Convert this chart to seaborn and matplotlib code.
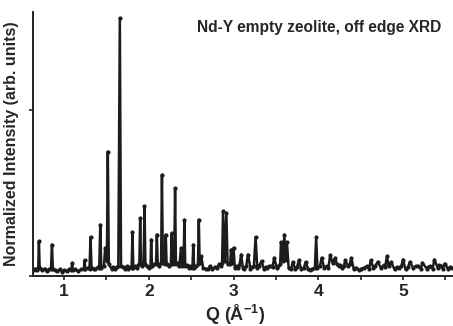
import matplotlib
matplotlib.use('Agg')
import matplotlib.pyplot as plt
from matplotlib.ticker import MultipleLocator
import seaborn as sns
import pandas as pd

# diffraction pattern (Q in 1/A, normalized intensity)
q = [0.64, 0.66, 0.68, 0.695, 0.703, 0.712, 0.74, 0.77, 0.80, 0.82,
     0.845, 0.857, 0.868, 0.89, 0.92, 0.95, 0.98, 1.00, 1.03, 1.06,
     1.085, 1.095, 1.105, 1.13, 1.17, 1.20, 1.232, 1.242, 1.252, 1.28,
     1.30, 1.312, 1.324, 1.35, 1.37, 1.40, 1.415, 1.427, 1.439, 1.47,
     1.485, 1.505, 1.516, 1.528, 1.56, 1.58, 1.60, 1.62, 1.64, 1.658,
     1.672, 1.70, 1.72, 1.74, 1.76, 1.78, 1.797, 1.807, 1.817, 1.84,
     1.86, 1.875, 1.888, 1.898, 1.908, 1.925, 1.938, 1.949, 1.96, 1.98,
     2.0, 2.02, 2.028, 2.037, 2.06, 2.085, 2.095, 2.105, 2.125, 2.145,
     2.155, 2.166, 2.19, 2.20, 2.21, 2.235, 2.26, 2.27, 2.28, 2.30,
     2.31, 2.32, 2.34, 2.36, 2.38, 2.395, 2.41, 2.42, 2.43, 2.45,
     2.47, 2.49, 2.515, 2.525, 2.535, 2.56, 2.58, 2.59, 2.60, 2.62,
     2.64, 2.67, 2.70, 2.72, 2.75, 2.78, 2.80, 2.83, 2.85, 2.865,
     2.876, 2.895, 2.915, 2.93, 2.96, 2.97, 2.985, 3.00, 3.015, 3.03,
     3.05, 3.07, 3.09, 3.11, 3.12, 3.15, 3.17, 3.20, 3.22, 3.24,
     3.26, 3.28, 3.30, 3.33, 3.36, 3.38, 3.40, 3.42, 3.44, 3.46,
     3.48, 3.51, 3.53, 3.55, 3.56, 3.58, 3.60, 3.615, 3.63, 3.65,
     3.68, 3.70, 3.73, 3.75, 3.77, 3.80, 3.83, 3.85, 3.88, 3.90,
     3.93, 3.96, 3.975, 3.99, 4.02, 4.04, 4.07, 4.10, 4.12, 4.14,
     4.17, 4.20, 4.22, 4.24, 4.26, 4.28, 4.30, 4.32, 4.35, 4.37,
     4.39, 4.42, 4.45, 4.48, 4.51, 4.54, 4.57, 4.60, 4.62, 4.65,
     4.67, 4.70, 4.74, 4.77, 4.79, 4.81, 4.83, 4.86, 4.90, 4.93,
     4.95, 4.98, 5.00, 5.03, 5.06, 5.08, 5.12, 5.15, 5.18, 5.21,
     5.23, 5.28, 5.30, 5.32, 5.35, 5.37, 5.41, 5.43, 5.45, 5.47,
     5.49, 5.53, 5.56, 5.58]
intensity = [0.035, 0.045, 0.035, 0.05, 0.21, 0.05, 0.035, 0.045, 0.03, 0.04,
             0.04, 0.19, 0.04, 0.035, 0.03, 0.04, 0.025, 0.035, 0.03, 0.04,
             0.035, 0.08, 0.035, 0.04, 0.03, 0.04, 0.04, 0.095, 0.04, 0.05,
             0.045, 0.235, 0.05, 0.045, 0.04, 0.055, 0.05, 0.31, 0.05, 0.06,
             0.17, 0.09, 0.75, 0.07, 0.045, 0.055, 0.04, 0.055, 0.06, 1.554,
             0.06, 0.055, 0.045, 0.06, 0.045, 0.055, 0.05, 0.265, 0.05, 0.06,
             0.05, 0.065, 0.07, 0.35, 0.08, 0.06, 0.07, 0.42, 0.07, 0.06,
             0.05, 0.06, 0.22, 0.06, 0.07, 0.07, 0.25, 0.07, 0.06, 0.08,
             0.61, 0.08, 0.07, 0.25, 0.07, 0.06, 0.07, 0.26, 0.07, 0.08,
             0.53, 0.07, 0.08, 0.06, 0.17, 0.06, 0.07, 0.34, 0.06, 0.065,
             0.05, 0.06, 0.05, 0.19, 0.05, 0.06, 0.07, 0.34, 0.08, 0.12,
             0.05, 0.045, 0.04, 0.06, 0.04, 0.055, 0.05, 0.07, 0.06, 0.08,
             0.39, 0.09, 0.38, 0.07, 0.07, 0.16, 0.08, 0.17, 0.05, 0.06,
             0.05, 0.065, 0.13, 0.05, 0.045, 0.06, 0.13, 0.045, 0.055, 0.06,
             0.235, 0.05, 0.06, 0.09, 0.04, 0.055, 0.05, 0.06, 0.06, 0.055,
             0.11, 0.05, 0.06, 0.07, 0.205, 0.09, 0.25, 0.10, 0.205, 0.05,
             0.045, 0.085, 0.04, 0.055, 0.095, 0.04, 0.05, 0.085, 0.045, 0.035,
             0.045, 0.05, 0.235, 0.05, 0.06, 0.11, 0.05, 0.06, 0.05, 0.125,
             0.08, 0.11, 0.07, 0.06, 0.065, 0.05, 0.06, 0.095, 0.06, 0.07,
             0.11, 0.04, 0.05, 0.035, 0.045, 0.05, 0.06, 0.045, 0.095, 0.05,
             0.06, 0.085, 0.05, 0.065, 0.055, 0.12, 0.06, 0.085, 0.04, 0.055,
             0.05, 0.06, 0.10, 0.04, 0.055, 0.085, 0.05, 0.06, 0.06, 0.045,
             0.08, 0.045, 0.055, 0.06, 0.045, 0.10, 0.05, 0.065, 0.06, 0.045,
             0.075, 0.045, 0.055, 0.05]

data = pd.DataFrame({'Q': q, 'I': intensity})

sns.set_style('ticks')
plt.rcParams['font.family'] = ['Liberation Sans', 'DejaVu Sans']
plt.rcParams['font.weight'] = 'bold'
plt.rcParams['mathtext.fontset'] = 'custom'
plt.rcParams['mathtext.rm'] = 'Liberation Sans:bold'
plt.rcParams['mathtext.it'] = 'Liberation Sans:bold'
plt.rcParams['mathtext.bf'] = 'Liberation Sans:bold'

fig = plt.figure(figsize=(4.53, 3.26), dpi=100)
ax = fig.add_axes([0.073, 0.153, 0.927, 0.81])

sns.lineplot(x='Q', y='I', data=data, sort=False, estimator=None, ax=ax,
             color='#1c1c1c', linewidth=1.8, marker='o', markersize=3,
             markeredgewidth=0)

ax.set_xlim(0.634, 5.59)
ax.set_ylim(0, 1.59)
ax.xaxis.set_major_locator(MultipleLocator(1))
ax.xaxis.set_minor_locator(MultipleLocator(0.5))
ax.set_yticks([0, 1])
ax.set_yticklabels([])
ax.tick_params(axis='both', which='both', direction='out', length=3,
               width=1.2, color='#222222', labelsize=12.5, pad=3)
for lbl in ax.get_xticklabels():
    lbl.set_fontweight('bold')

sns.despine(ax=ax)
for s in ['left', 'bottom']:
    ax.spines[s].set_linewidth(1.4)
    ax.spines[s].set_color('#222222')

ax.set_xlabel(r'Q (Å$^{-1}$)', fontsize=13, fontweight='bold', labelpad=1)
ax.set_ylabel('Normalized Intensity (arb. units)', fontsize=11.5,
              fontweight='bold', labelpad=4)
ax.xaxis.set_label_coords(0.48, -0.1)
ax.text(0.971, 0.94, 'Nd-Y empty zeolite, off edge XRD', transform=ax.transAxes,
        ha='right', va='center', fontsize=11.2, fontweight='bold')

fig.savefig('out.png', dpi=100)
plt.close(fig)
